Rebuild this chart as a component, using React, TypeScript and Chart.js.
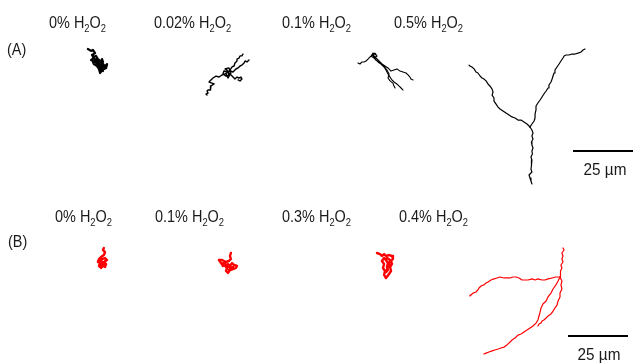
import React, { useEffect, useRef } from "react";
import { Chart, registerables } from "chart.js";

Chart.register(...registerables);

type Pt = [number, number];

// ---------- DATA (trajectories in µm, relative to each panel's start point) ----------
const rowLabels = ["(A)", "(B)"];
const concentrationsA = ["0%", "0.02%", "0.1%", "0.5%"];
const concentrationsB = ["0%", "0.1%", "0.3%", "0.4%"];
const scaleBarUm = 25;
const scaleBarUnit = "µm";

const a1Track1: Pt[] = [
  [-3.8, -5], [-2.5, -4.2], [-1.7, -4.6], [-0.8, -3.3], [-2.1, -2.5], [-1.3, -1.3], [-2.5, -0.4],
  [-0.8, 0.4], [0, -1.3], [0.8, 0], [-0.4, 1.3], [1.3, 0.8], [2.1, -0.8], [2.5, 0.4], [1.7, 2.1],
  [2.9, 2.5], [4.2, 1.3], [3.8, 2.9], [2.1, 3.8], [1.3, 5], [0.8, 3.3], [0, 2.1], [-1.3, 1.3],
  [-1.7, 0.4], [0, -0.4], [1.3, 1.7], [2.5, 4.2], [1.3, 3.3], [2.1, 2.1], [0.8, 1.7], [-0.4, 0],
  [-1.7, -1.7], [-0.4, -2.1], [0.4, -0.8], [1.7, 0.4], [2.9, 1.7], [2.1, 2.9], [0.4, 2.5],
];

const a2Track1: Pt[] = [
  [0, 0], [-1.25, 0.8], [-2.5, 1.25], [-3.75, 2.1], [-5, 1.7], [-6.25, 2.5], [-7.1, 3.3], [-7.9, 4.2],
  [-6.7, 4.6], [-5.8, 5], [-7.1, 5.8], [-7.1, 6.7], [-7.5, 7.5], [-8.3, 7.5], [-8.75, 7.9], [-8.3, 8.75],
  [-9.2, 9.2], [-8.75, 9.6],
];
const a2Track2: Pt[] = [
  [0, 0], [0.8, -0.8], [1.7, -2.1], [2.5, -2.5], [2.9, -3.75], [3.75, -4.6], [3.75, -5.4], [4.6, -5.8],
  [5, -6.7], [5.8, -6.7], [6.25, -7.5],
];
const a2Track3: Pt[] = [
  [0, 0], [1.25, -0.4], [2.1, 0], [3.3, -1.25], [4.2, -1.7], [5, -2.5], [5.8, -2.9], [6.7, -3.75],
  [7.1, -4.6], [7.9, -4.2], [8.75, -5],
];
const a2Track4: Pt[] = [
  [0, 0], [1.25, 1.25], [2.1, 2.1], [2.9, 2.9], [3.75, 2.1], [4.6, 2.5], [5.4, 2.1], [5.8, 2.9],
  [5, 3.75], [4.2, 3.3],
];
const a2Track5: Pt[] = [
  [0, 0], [-1.7, -0.4], [-2.1, 0.8], [-0.8, 1.7], [0.4, 1.25], [-0.4, -0.8], [-1.25, -1.25],
  [0.4, -1.7], [1.25, 0.4], [0, 2.5], [-0.8, 0.8],
];

const a3Track1: Pt[] = [
  [0, 0], [-1.25, 0.8], [-2.1, 1.7], [-2.9, 2.5], [-3.75, 2.9], [-4.6, 2.9], [-5.4, 3.75], [-6.25, 3.3],
];
const a3Track2: Pt[] = [
  [0, 0], [1.25, 1.25], [2.5, 2.5], [3.75, 3.75], [5, 4.6], [6.25, 5.4], [7.5, 6.7], [8.75, 6.25],
  [10, 5.8], [11.25, 6.7], [12.5, 7.1], [13.75, 7.5], [14.6, 8.3], [15.4, 9.2], [15.8, 10], [16.7, 10.4],
];
const a3Track3: Pt[] = [
  [0, 0], [0.8, 1.7], [2.1, 2.9], [3.3, 3.75], [4.6, 5], [5.4, 6.25], [6.25, 7.9], [7.1, 9.2],
  [7.9, 10.4], [8.75, 11.25], [10, 12.1], [10.8, 12.9], [11.7, 13.75], [12.5, 14.6],
];
const a3Track4: Pt[] = [
  [0, 0], [1.25, 2.1], [2.9, 3.3], [4.6, 4.6], [5.8, 6.25], [6.7, 7.9], [6.25, 9.6], [7.1, 10.8],
  [8.3, 11.7], [8.75, 12.9], [9.2, 13.75],
];
const a3Track5: Pt[] = [
  [0, 0], [0.8, -0.8], [1.7, 0.4], [0.4, 1.25], [-0.8, 0.4], [0, -0.8], [1.25, 0],
];

const a4Track1: Pt[] = [
  [0, 0], [-1.25, -1.25], [-2.5, -2.1], [-3.75, -2.9], [-5, -2.9], [-6.25, -3.75], [-7.5, -4.2],
  [-8.75, -5], [-10, -5.8], [-11.25, -6.7], [-12.5, -7.5], [-13.3, -8.3], [-14.2, -9.6], [-15, -10.8],
  [-15, -12.1], [-15.8, -13.3], [-15.4, -14.6], [-15.8, -15.8], [-16.7, -17.1], [-17.5, -17.9],
  [-18.3, -19.2], [-19.2, -20], [-20, -20.4], [-20.8, -21.25], [-21.7, -22.5], [-22.5, -22.9],
  [-23.3, -24.2], [-24.2, -25], [-25, -25.4], [-25.4, -25.8],
];
const a4Track2: Pt[] = [
  [0, 0], [0.8, -1.25], [1.7, -2.5], [2.1, -3.75], [2.1, -5.4], [2.5, -7.1], [2.5, -8.75], [3.3, -10],
  [4.2, -11.25], [5, -12.5], [5.8, -13.75], [6.7, -15], [7.5, -16.25], [7.9, -17.5], [8.75, -18.75],
  [9.2, -20], [9.6, -21.25], [10, -22.5], [10.4, -23.75], [11.25, -25], [12.1, -26.25], [12.9, -27.5],
  [13.75, -28.75], [14.2, -29.6], [15, -30], [16.25, -30], [17.5, -30.4], [18.75, -30.4], [20, -30.8],
  [21.25, -31.25], [22.1, -32.1], [22.9, -32.5],
];
const a4Track3: Pt[] = [
  [0, 0], [0.8, 1.25], [1.25, 2.5], [0.8, 3.75], [1.25, 5], [0.6, 6.25], [0.8, 7.5], [1.25, 8.75],
  [0.8, 10], [1.0, 11.25], [0.4, 12.5], [0.8, 13.75], [0.5, 15], [0.7, 16.25], [0.4, 17.5],
  [0.8, 18.75], [-0.4, 20], [0, 21.25], [0.4, 22.5], [0.8, 23.75],
];

const b1Track1: Pt[] = [
  [0.8, -5], [0.4, -4.2], [1.25, -3.3], [0.8, -2.1], [-0.4, -1.25], [-1.25, -0.4], [-1.7, 0.8],
  [-0.8, 1.25], [-1.25, 2.5], [-0.4, 3.3], [0.4, 2.5], [1.25, 2.9], [1.7, 1.7], [0.8, 0.8], [2.1, 0],
  [1.25, -0.8], [0, -0.4], [-0.4, 0.8], [0.4, 1.25], [-0.8, 0], [-0.4, 2.1], [0.8, 1.7], [1.25, 0.4],
];
const b2Track1: Pt[] = [
  [0.8, -5], [0.4, -3.75], [0.8, -2.5], [0, -1.7], [-1.25, -1.25], [-2.9, -2.1], [-4.2, -2.1],
  [-3.3, -0.8], [-2.5, 0.4], [-1.7, -0.4], [-0.8, 1.25], [-1.25, 2.5], [-0.4, 3.3], [0.4, 2.1],
  [1.7, 1.7], [2.9, 1.25], [3.3, 0.4], [2.1, 0], [1.25, -0.8], [0.4, 0.4], [-0.4, -0.4], [-1.25, 0.8],
  [-2.5, -0.8], [-0.8, 0], [0.4, 1.25], [1.7, 0.8], [0, 2.1],
];
const b3Track1: Pt[] = [
  [-3.75, -3.75], [-2.5, -3.3], [-1.7, -2.5], [-0.8, -3.3], [0, -2.5], [1.25, -2.9], [2.5, -2.5],
  [2.9, -1.25], [2.1, -0.4], [2.5, 0.8], [1.7, 2.1], [2.1, 3.75], [1.25, 5], [0, 6.7], [-0.8, 5.4],
  [-0.4, 3.75], [-1.25, 2.5], [-0.8, 0.8], [-1.7, -0.4], [-0.8, -1.7], [0, -0.8], [0.8, 0.4],
  [0.4, 2.1], [0.8, 3.3], [0, 4.2], [1.25, 1.25], [1.7, -0.8], [0.4, -1.7],
];
const b4Track1: Pt[] = [
  [0, 0], [0.4, -1.25], [0, -2.5], [0.8, -3.75], [0.4, -5], [1.25, -6.25], [0.8, -7.5], [1.25, -8.75],
  [0.8, -10], [1.7, -11.25], [1.25, -12.1],
];
const b4Track2: Pt[] = [
  [0, 0], [-1.7, 0], [-3.3, 0.4], [-5, 0.8], [-6.25, 1.25], [-7.5, 1.25], [-9.2, 0.8], [-10.4, 1.25],
  [-11.7, 0.8], [-13.3, 1.25], [-14.6, 1.25], [-15.8, 1.25], [-17.1, 0.4], [-18.3, 0], [-19.6, 0],
  [-20.8, 0.4], [-22.1, 0.4], [-23.3, 0.4], [-25, 0], [-26.25, 0.4], [-27.5, 0.8], [-28.75, 1.25],
  [-30, 2.1], [-30.8, 2.5], [-31.7, 3.3], [-32.9, 3.75], [-33.75, 4.6], [-34.2, 5.4], [-35, 6.25],
  [-36.25, 6.7], [-37.1, 7.5], [-37.5, 7.9],
];
const b4Track3: Pt[] = [
  [0, 0], [-0.8, 1.7], [-1.7, 3.3], [-2.9, 5], [-3.75, 6.7], [-5, 8.3], [-5.8, 10], [-7.1, 11.25],
  [-7.9, 12.9], [-8.3, 14.6], [-8.75, 16.25], [-9.2, 17.9], [-10, 19.2], [-11.25, 20.4], [-12.5, 21.25],
  [-13.75, 22.1], [-15, 22.9], [-16.25, 23.75], [-17.5, 24.2], [-18.75, 25.4], [-20, 26.25],
  [-20.8, 27.1], [-22.1, 28.3], [-23.3, 29.2], [-24.6, 29.6], [-25.8, 30], [-27.1, 30.4],
  [-28.3, 30.8], [-29.6, 31.25], [-30.8, 31.7], [-31.7, 32.1],
];
const b4Track4: Pt[] = [
  [0, 0], [0.8, 1.7], [0.4, 3.3], [0.8, 5], [0, 6.7], [0, 8.3], [-0.8, 10], [-1.25, 11.7], [-2.1, 12.9],
  [-2.9, 14.2], [-3.75, 15.4], [-5, 16.25], [-5.8, 17.1], [-6.7, 17.9], [-7.5, 18.3], [-7.9, 19.2],
  [-8.75, 19.6], [-9.2, 20.4],
];

// ---------- LAYOUT ----------
const W = 636;
const H = 363;
const PX_PER_UM = 2.4;
const BLACK = "#000000";
const RED = "#ff0000";

type Panel = { origin: Pt; tracks: Pt[][]; color: string; width: number };
const panels: Panel[] = [
  { origin: [97, 61], tracks: [a1Track1], color: BLACK, width: 2.2 },
  { origin: [228, 72], tracks: [a2Track1, a2Track2, a2Track3, a2Track4, a2Track5], color: BLACK, width: 1.4 },
  { origin: [373, 55], tracks: [a3Track1, a3Track2, a3Track3, a3Track4, a3Track5], color: BLACK, width: 1.1 },
  { origin: [530, 127], tracks: [a4Track1, a4Track2, a4Track3], color: BLACK, width: 1.2 },
  { origin: [102, 260], tracks: [b1Track1], color: RED, width: 2.4 },
  { origin: [229, 265], tracks: [b2Track1], color: RED, width: 2.4 },
  { origin: [386, 262], tracks: [b3Track1], color: RED, width: 2.4 },
  { origin: [560, 277], tracks: [b4Track1, b4Track2, b4Track3, b4Track4], color: RED, width: 1.2 },
];

const scaleBars: { start: Pt; textCenter: Pt }[] = [
  { start: [573, 151], textCenter: [605, 161] },
  { start: [568, 336], textCenter: [599, 346] },
];

const labelPosA = [49, 154, 282, 394];
const labelPosB = [55, 155, 282, 399];
const labelTopA = 14;
const labelTopB = 208;

const textStyle: React.CSSProperties = {
  position: "absolute",
  fontFamily: "'Liberation Sans', Arial, sans-serif",
  fontSize: 17,
  lineHeight: "17px",
  color: "#1a1a1a",
  whiteSpace: "nowrap",
  transform: "scaleX(0.85)",
  transformOrigin: "left top",
};

const subStyle: React.CSSProperties = {
  fontSize: 11,
  verticalAlign: "baseline",
  position: "relative",
  top: 4,
};

function H2O2({ conc }: { conc: string }) {
  return (
    <>
      {conc} H<span style={subStyle}>2</span>O<span style={subStyle}>2</span>
    </>
  );
}

export default function App() {
  const canvasRef = useRef<HTMLCanvasElement | null>(null);

  useEffect(() => {
    document.body.style.margin = "0";
    const canvas = canvasRef.current;
    if (!canvas) return;

    const datasets: any[] = [];
    panels.forEach((p) => {
      const ox = p.origin[0] / PX_PER_UM;
      const oy = p.origin[1] / PX_PER_UM;
      p.tracks.forEach((t) => {
        datasets.push({
          data: t.map(([x, y]) => ({ x: ox + x, y: oy + y })),
          borderColor: p.color,
          borderWidth: p.width,
          pointRadius: 0,
          showLine: true,
          fill: false,
          tension: 0,
          borderJoinStyle: "round",
          borderCapStyle: "round",
        });
      });
    });
    scaleBars.forEach((s) => {
      const sx = s.start[0] / PX_PER_UM;
      const sy = s.start[1] / PX_PER_UM;
      datasets.push({
        data: [
          { x: sx, y: sy },
          { x: sx + scaleBarUm, y: sy },
        ],
        borderColor: "#000000",
        borderWidth: 2,
        pointRadius: 0,
        showLine: true,
        fill: false,
      });
    });

    const chart = new Chart(canvas, {
      type: "scatter",
      data: { datasets },
      options: {
        animation: false,
        responsive: false,
        maintainAspectRatio: false,
        layout: { padding: 0 },
        plugins: { legend: { display: false }, tooltip: { enabled: false } },
        events: [],
        scales: {
          x: { type: "linear", min: 0, max: W / PX_PER_UM, display: false },
          y: { type: "linear", min: 0, max: H / PX_PER_UM, reverse: true, display: false },
        },
        elements: { line: { tension: 0 } },
      } as any,
    });
    return () => chart.destroy();
  }, []);

  return (
    <div style={{ position: "relative", width: W, height: H, background: "#fff", overflow: "hidden" }}>
      <canvas ref={canvasRef} width={W} height={H} style={{ position: "absolute", left: 0, top: 0 }} />
      <div style={{ ...textStyle, left: 7, top: 41 }}>{rowLabels[0]}</div>
      <div style={{ ...textStyle, left: 8, top: 233 }}>{rowLabels[1]}</div>
      {concentrationsA.map((c, i) => (
        <div key={"a" + i} style={{ ...textStyle, left: labelPosA[i], top: labelTopA }}>
          <H2O2 conc={c} />
        </div>
      ))}
      {concentrationsB.map((c, i) => (
        <div key={"b" + i} style={{ ...textStyle, left: labelPosB[i], top: labelTopB }}>
          <H2O2 conc={c} />
        </div>
      ))}
      {scaleBars.map((s, i) => (
        <div
          key={"s" + i}
          style={{
            ...textStyle,
            fontSize: 17,
            left: s.textCenter[0] - 40,
            top: s.textCenter[1],
            width: 80 / 0.9,
            textAlign: "center",
            transform: "scaleX(0.9)",
          }}
        >
          {scaleBarUm} {scaleBarUnit}
        </div>
      ))}
    </div>
  );
}
